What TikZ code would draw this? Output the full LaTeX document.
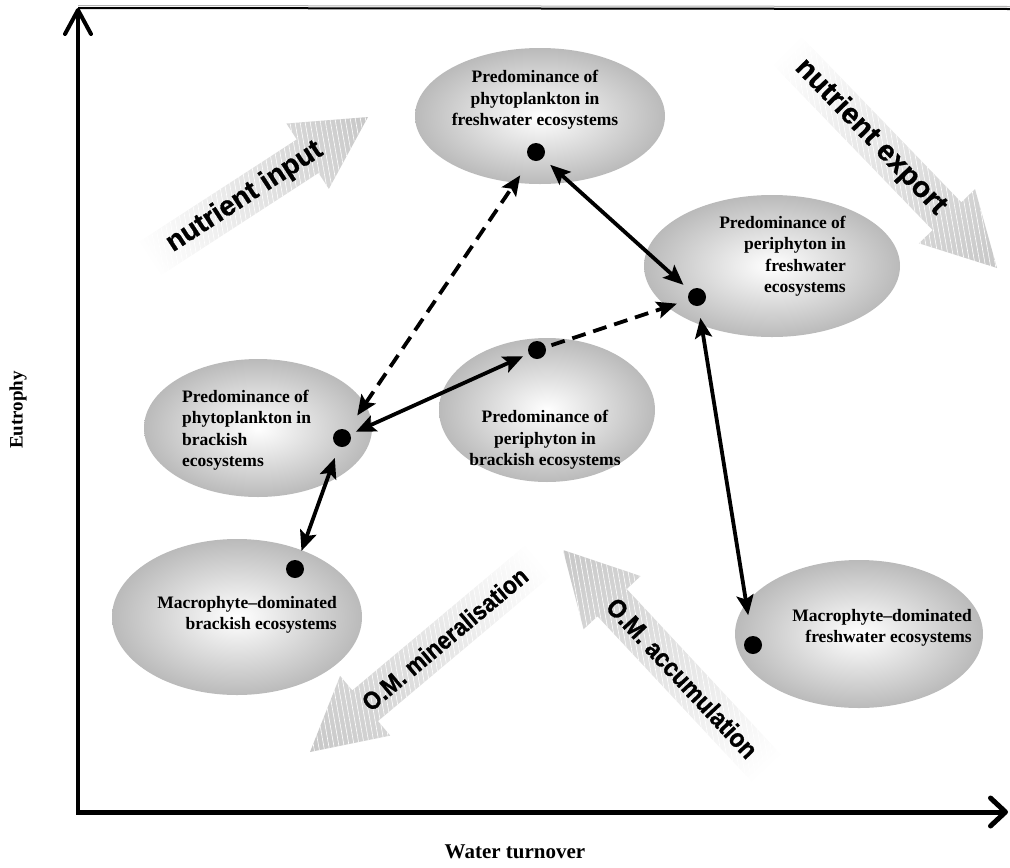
\documentclass[tikz,border=0pt]{standalone}
\usepackage{fontspec}
\setmainfont{Liberation Serif}
\newfontfamily\arrowfont{Liberation Sans}[UprightFeatures={FakeBold=1},BoldFeatures={FakeBold=1}]
\newfontfamily\arrowfontn{Liberation Sans}[UprightFeatures={FakeStretch=0.9,FakeBold=1},BoldFeatures={FakeStretch=0.9,FakeBold=1}]
\usetikzlibrary{arrows.meta,shapes.geometric,patterns.meta}

\newcommand\bigarrow[8]{%
  % #1 tip, #2 rotation, #3 length, #4 text, #5 text rotation, #6 text distance, #7 font, #8 node name
  \begin{scope}[transform canvas={shift={#1},rotate=#2}]
    \shade[left color=white, right color=black!22]
      (-#3,-20) -- (-72,-20) -- (-72,-39) -- (0,0) -- (-72,39) -- (-72,20) -- (-#3,20) -- cycle;
    \fill[pattern={Lines[angle=100,distance=5pt,line width=0.6pt]}, pattern color=white, fill opacity=0.25]
      (-#3,-20) -- (-72,-20) -- (-72,-39) -- (0,0) -- (-72,39) -- (-72,20) -- (-#3,20) -- cycle;
    \node[inner sep=0pt, rotate=#5, font=#7] (#8) at (-#6,0) {#4};
  \end{scope}}

\begin{document}
\begin{tikzpicture}[x=1pt,y=-1pt,
  eco/.style={ellipse, draw=none, inner color=white, outer color=black!27, inner sep=0pt},
  lbl/.style={inner sep=0pt, font=\bfseries\fontsize{17.5}{21.5}\selectfont},
  dot/.style={circle, fill=black, minimum size=18pt, inner sep=0pt},
  link/.style={line width=3.8pt, {Stealth[length=20pt,width=17pt,inset=4pt]}-{Stealth[length=20pt,width=17pt,inset=4pt]}},
  dlink/.style={link, dash pattern=on 14pt off 8pt},
  axis/.style={line width=4pt, -{Straight Barb[length=24pt,width=26pt,round]}}
]
\useasboundingbox (0,0) rectangle (1010,868);

% big arrows
\bigarrow{(368,117)}{33}{262}{nutrient input}{0}{147}{\arrowfont\bfseries\fontsize{28}{28}\selectfont}{tin}
\bigarrow{(997,268)}{-46}{305}{nutrient export}{0}{182}{\arrowfont\bfseries\fontsize{29}{29}\selectfont}{tex}
\bigarrow{(310,752)}{220}{300}{O.M. mineralisation}{180}{176}{\arrowfontn\bfseries\fontsize{25}{25}\selectfont}{tmin}
\bigarrow{(563,550)}{133}{300}{O.M. accumulation}{180}{175}{\arrowfontn\bfseries\fontsize{26}{26}\selectfont}{tacc}

% ellipses
\node[eco, minimum width=250pt, minimum height=136pt] (e1) at (540,116) {};
\node[eco, minimum width=256pt, minimum height=142pt] (e2) at (772,266) {};
\node[eco, minimum width=228pt, minimum height=138pt] (e3) at (258,428) {};
\node[eco, minimum width=216pt, minimum height=144pt] (e4) at (547,410) {};
\node[eco, minimum width=250pt, minimum height=156pt] (e5) at (237,617) {};
\node[eco, minimum width=248pt, minimum height=148pt] (e6) at (859,634) {};

% labels
\node[lbl, align=center] (l1) at (535,100) {Predominance of\\phytoplankton in\\freshwater ecosystems};
\node[lbl, align=right, anchor=east] (l2) at (846,256) {Predominance of\\periphyton in\\freshwater\\ecosystems};
\node[lbl, align=left, anchor=west] (l3) at (182,430) {Predominance of\\phytoplankton in\\brackish\\ecosystems};
\node[lbl, align=center] (l4) at (545,440) {Predominance of\\periphyton in\\brackish ecosystems};
\node[lbl, align=right, anchor=east] (l5) at (337,615) {Macrophyte--dominated\\brackish ecosystems};
\node[lbl, align=right, anchor=east] (l6) at (972,628) {Macrophyte--dominated\\freshwater ecosystems};

% dots
\node[dot] (d1) at (536,152) {};
\node[dot] (d2) at (697,297) {};
\node[dot] (d3) at (342,438) {};
\node[dot] (d4) at (537,350) {};
\node[dot] (d5) at (295,569) {};
\node[dot] (d6) at (753,645) {};

% connectors
\draw[link, shorten <=10pt, shorten >=9pt] (d1) -- (d2);
\draw[link, shorten <=12pt, shorten >=21pt] (d2) -- (d6);
\draw[link, shorten <=6pt, shorten >=6pt] (d3) -- (d4);
\draw[link, shorten <=12pt, shorten >=10pt] (d3) -- (d5);
\draw[dlink, shorten <=18pt, shorten >=19pt] (d3) -- (d1);
\draw[line width=3.8pt, dash pattern=on 14pt off 8pt, -{Stealth[length=20pt,width=17pt,inset=4pt]}, shorten <=6pt, shorten >=12pt] (d4) -- (d2);

% axes
\coordinate (O) at (78,812);
\coordinate (ytop) at (78,8);
\coordinate (xend) at (1008,812);
\coordinate (tr) at (1010,9);
\draw[axis] (O) -- (ytop);
\draw[line width=5pt, -{Straight Barb[length=15pt,width=28pt,round]}] ([xshift=-2pt]O) -- (xend);
\draw[line width=2pt] (ytop) -- (tr);
\draw[line width=1pt, black!30] ([yshift=2.5pt]ytop) -- ([yshift=2.5pt]tr);

\node[font=\bfseries\fontsize{19}{22}\selectfont, rotate=90] (ylab) at (18,410) {Eutrophy};
\node[font=\bfseries\fontsize{21}{24}\selectfont] (xlab) at (515,852) {Water turnover};
\end{tikzpicture}
\end{document}
